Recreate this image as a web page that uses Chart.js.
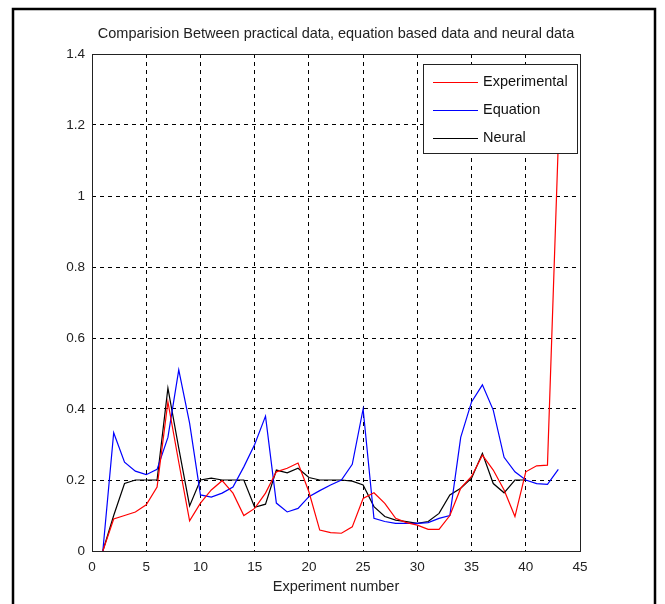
<!DOCTYPE html>
<html>
<head>
<meta charset="utf-8">
<script src="https://cdn.jsdelivr.net/npm/chart.js@4/dist/chart.umd.min.js"></script>
<style>
html, body { margin: 0; padding: 0; background: #fff; }
#wrap { width: 665px; height: 604px; }
</style>
</head>
<body>
<div id="wrap"><canvas id="chart" width="665" height="604"></canvas></div>
<script>
// experiment number 1..43
const experimentNo = [1,2,3,4,5,6,7,8,9,10,11,12,13,14,15,16,17,18,19,20,21,22,23,24,25,26,27,28,29,30,31,32,33,34,35,36,37,38,39,40,41,42,43];

const experimental = [0,0.09,0.10,0.11,0.13,0.18,0.42,0.25,0.085,0.135,0.172,0.198,0.163,0.10,0.12,0.163,0.223,0.233,0.248,0.167,0.059,0.052,0.05,0.068,0.148,0.164,0.134,0.092,0.08,0.073,0.061,0.061,0.10,0.177,0.21,0.27,0.228,0.172,0.097,0.223,0.24,0.242,1.15];
const equation = [0,0.333,0.25,0.225,0.215,0.23,0.32,0.51,0.36,0.158,0.152,0.163,0.18,0.237,0.30,0.38,0.135,0.11,0.12,0.153,0.17,0.186,0.20,0.244,0.40,0.092,0.083,0.078,0.078,0.078,0.08,0.092,0.10,0.32,0.42,0.468,0.397,0.264,0.223,0.20,0.19,0.188,0.23];
const neural = [0,0.10,0.19,0.20,0.20,0.20,0.459,0.29,0.127,0.20,0.205,0.20,0.20,0.20,0.123,0.132,0.228,0.22,0.233,0.207,0.20,0.20,0.20,0.197,0.186,0.125,0.097,0.087,0.083,0.078,0.083,0.106,0.158,0.177,0.205,0.275,0.19,0.164,0.20,0.20];

const xTicks = [0,5,10,15,20,25,30,35,40,45];
const xTickLabels = ['0','5','10','15','20','25','30','35','40','45'];
const yTicks = [0,0.2,0.4,0.6,0.8,1,1.2,1.4];
const yTickLabels = ['0','0.2','0.4','0.6','0.8','1','1.2','1.4'];

const FONT = "'Liberation Sans', Arial, sans-serif";

function pts(arr) {
    return arr.map((v, i) => ({ x: experimentNo[i], y: v }));
}

// white page + thick outer frame
const pageFrame = {
    id: 'pageFrame',
    beforeDraw(chart) {
        const ctx = chart.ctx;
        ctx.save();
        ctx.fillStyle = '#fff';
        ctx.fillRect(0, 0, chart.width, chart.height);
        ctx.strokeStyle = '#000';
        ctx.lineWidth = 2.5;
        ctx.strokeRect(13, 9, 642, 620);
        ctx.restore();
    }
};

// matlab style axes box + legend inside the plot
const boxAndLegend = {
    id: 'boxAndLegend',
    afterDatasetsDraw(chart) {
        const ctx = chart.ctx;
        const a = chart.chartArea;
        ctx.save();
        ctx.strokeStyle = '#222';
        ctx.lineWidth = 1;
        ctx.setLineDash([]);
        ctx.strokeRect(Math.round(a.left) + 0.5, Math.round(a.top) + 0.5, Math.round(a.right - a.left), Math.round(a.bottom - a.top));

        // legend
        const w = 154, h = 89;
        const lx = Math.round(a.right) - 3 - w, ly = Math.round(a.top) + 10;
        ctx.fillStyle = '#fff';
        ctx.fillRect(lx, ly, w, h);
        ctx.strokeStyle = '#222';
        ctx.strokeRect(lx + 0.5, ly + 0.5, w, h);
        ctx.font = '14.5px ' + FONT;
        ctx.textBaseline = 'middle';
        ctx.textAlign = 'left';
        chart.data.datasets.forEach((ds, i) => {
            const yy = ly + 18 + i * 28;
            ctx.strokeStyle = ds.borderColor;
            ctx.lineWidth = 1.2;
            ctx.beginPath();
            ctx.moveTo(lx + 10, yy + 0.5);
            ctx.lineTo(lx + 55, yy + 0.5);
            ctx.stroke();
            ctx.fillStyle = '#111';
            ctx.fillText(ds.label, lx + 60, yy);
        });
        ctx.restore();
    }
};

new Chart(document.getElementById('chart'), {
    type: 'line',
    data: {
        datasets: [
            { label: 'Experimental', data: pts(experimental), borderColor: '#ff0000' },
            { label: 'Equation', data: pts(equation), borderColor: '#0000ff' },
            { label: 'Neural', data: pts(neural), borderColor: '#000000' }
        ].map(d => ({ ...d, borderWidth: 1.2, pointRadius: 0, tension: 0, fill: false }))
    },
    options: {
        responsive: false,
        animation: false,
        events: [],
        layout: { padding: { left: 0, right: 85, top: 0, bottom: 0 } },
        plugins: {
            legend: { display: false },
            tooltip: { enabled: false },
            title: {
                display: true,
                fullSize: false,
                text: 'Comparision Between practical data, equation based data and neural data',
                color: '#222',
                font: { family: FONT, size: 14.5, weight: 'normal' },
                padding: { top: 25, bottom: 11.6 }
            }
        },
        scales: {
            x: {
                type: 'linear',
                min: 0, max: 45,
                afterBuildTicks: s => { s.ticks = xTicks.map(v => ({ value: v })); },
                afterFit: s => { s.height = 53; },
                ticks: {
                    color: '#222',
                    font: { family: FONT, size: 13.5 },
                    padding: 8,
                    maxRotation: 0,
                    callback: (v) => xTickLabels[xTicks.indexOf(v)]
                },
                grid: { color: '#000', lineWidth: 1, drawTicks: false },
                border: { display: false, dash: [4, 4] },
                title: {
                    display: true,
                    text: 'Experiment number',
                    color: '#222',
                    font: { family: FONT, size: 14.5 },
                    padding: { top: 0, bottom: 8 }
                }
            },
            y: {
                type: 'linear',
                min: 0, max: 1.4,
                afterBuildTicks: s => { s.ticks = yTicks.map(v => ({ value: v })); },
                afterFit: s => { s.width = 92; },
                ticks: {
                    color: '#222',
                    font: { family: FONT, size: 13.5 },
                    padding: 7,
                    callback: (v) => yTickLabels[yTicks.indexOf(v)]
                },
                grid: { color: '#000', lineWidth: 1, drawTicks: false },
                border: { display: false, dash: [4, 4] }
            }
        }
    },
    plugins: [pageFrame, boxAndLegend]
});
</script>
</body>
</html>
